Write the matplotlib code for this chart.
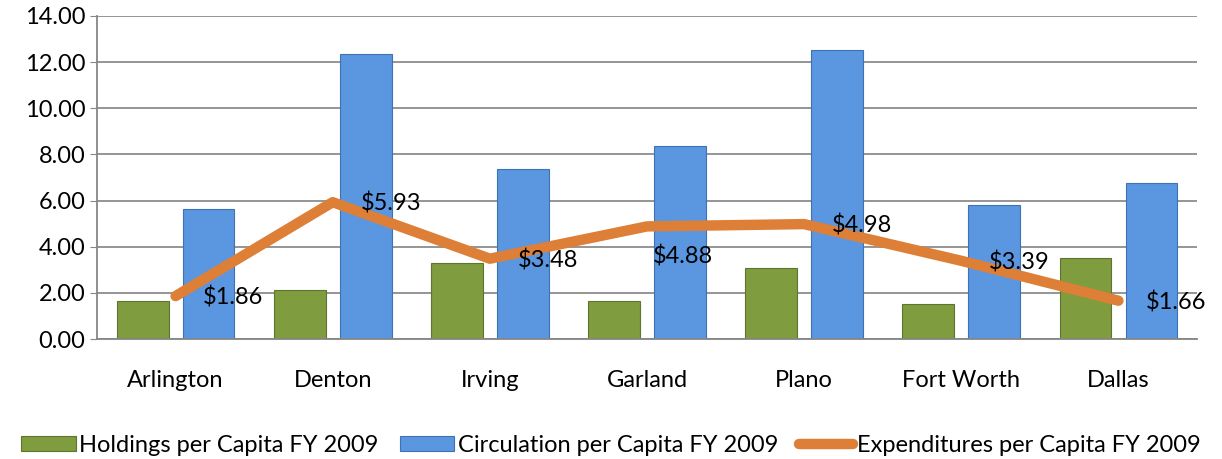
import numpy as np
import matplotlib
matplotlib.use('Agg')
from matplotlib import pyplot as plt

plt.rcParams['font.family'] = ['Lato', 'DejaVu Sans']

cities = ['Arlington', 'Denton', 'Irving', 'Garland', 'Plano', 'Fort Worth', 'Dallas']
holdings = [1.65, 2.14, 3.30, 1.65, 3.06, 1.50, 3.52]
circulation = [5.63, 12.37, 7.37, 8.37, 12.54, 5.79, 6.77]
expenditures = [1.86, 5.93, 3.48, 4.88, 4.98, 3.39, 1.66]
exp_labels = ['$1.86', '$5.93', '$3.48', '$4.88', '$4.98', '$3.39', '$1.66']

green = '#7F9C3E'
blue = '#5A97E0'
orange = '#DD7F36'
fs = 17

fig = plt.figure(figsize=(12.22, 4.59), dpi=100)
ax = fig.add_axes([97 / 1222, 1 - 339 / 459, 1100 / 1222, 323 / 459])

x = np.arange(len(cities))
w = 0.33
hb = ax.bar(x - 0.21, holdings, w, color=green, edgecolor='#5E7530', linewidth=0.8,
            label='Holdings per Capita FY 2009', zorder=2)
cb = ax.bar(x + 0.21, circulation, w, color=blue, edgecolor='#3F72B3', linewidth=0.8,
            label='Circulation per Capita FY 2009', zorder=2)
ln, = ax.plot(x, expenditures, color=orange, linewidth=7.5, solid_capstyle='round',
              solid_joinstyle='round', label='Expenditures per Capita FY 2009', zorder=3)

# Garland label sits lower in the original
for i, (xi, yi, s) in enumerate(zip(x, expenditures, exp_labels)):
    dx, dy = 20, -1
    if cities[i] == 'Garland':
        dx, dy = 4, -22
    ax.annotate(s, (xi, yi), xytext=(dx, dy), textcoords='offset points',
                ha='left', va='center', fontsize=fs, zorder=4)

ax.set_xlim(-0.5, len(cities) - 0.5)
ax.set_ylim(0, 14)
ax.set_yticks(np.arange(0, 15, 2))
ax.set_yticklabels(['%.2f' % v for v in np.arange(0, 15, 2)])
ax.set_xticks(x)
ax.set_xticklabels(cities)
ax.tick_params(axis='x', length=0, pad=22, labelsize=fs)
ax.tick_params(axis='y', length=5, labelsize=fs, color='#868686')
ax.grid(axis='y', color='#8C8C8C', linewidth=1.3, zorder=0)
ax.set_axisbelow(True)
for side in ['top', 'right']:
    ax.spines[side].set_visible(False)
for side in ['left', 'bottom']:
    ax.spines[side].set_color('#868686')
    ax.spines[side].set_linewidth(1.3)

fig.legend(handles=[hb, cb, ln], loc='lower center', bbox_to_anchor=(0.5, -0.03),
           ncol=3, frameon=False, fontsize=fs, handlelength=2.3, handleheight=0.6,
           handletextpad=0.15, columnspacing=0.9, borderpad=0.2)

fig.savefig('out.png', dpi=100)
